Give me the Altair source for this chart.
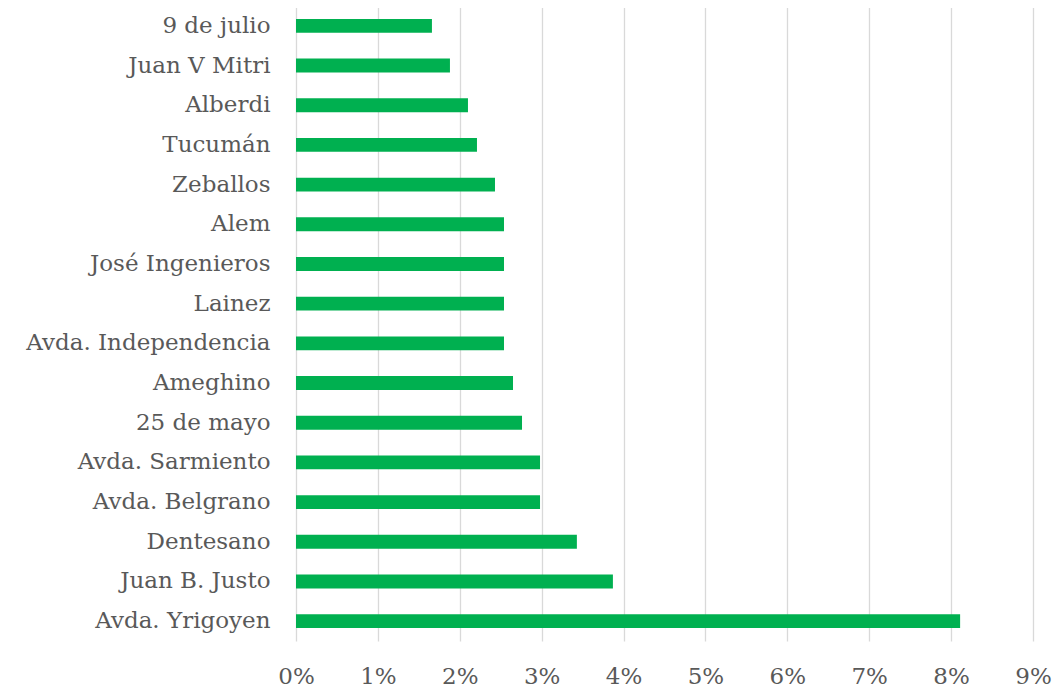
import altair as alt
import pandas as pd

calles = ["9 de julio", "Juan V Mitri", "Alberdi", "Tucumán", "Zeballos", "Alem\u00a0",
          "José Ingenieros", "Lainez", "Avda. Independencia", "Ameghino", "25 de mayo",
          "Avda. Sarmiento", "Avda. Belgrano", "Dentesano", "Juan B. Justo", "Avda. Yrigoyen"]
valores = [0.0166, 0.0188, 0.0210, 0.0221, 0.0243, 0.0254,
           0.0254, 0.0254, 0.0254, 0.0265, 0.0276,
           0.0298, 0.0298, 0.0343, 0.0387, 0.0811]
ticks = [0, 0.01, 0.02, 0.03, 0.04, 0.05, 0.06, 0.07, 0.08, 0.09]

df = pd.DataFrame({"calle": calles, "valor": valores})

FONT = "DejaVu Serif"
GRAY = "#595959"

chart = alt.Chart(df).mark_bar(color="#00B050").encode(
    x=alt.X("valor:Q",
            scale=alt.Scale(domain=[0, 0.09], nice=False),
            axis=alt.Axis(values=ticks, format=".0%", title=None, grid=True,
                          gridColor="#d9d9d9", gridWidth=1.3, domain=False, ticks=False,
                          labelFont=FONT, labelFontSize=23, labelColor=GRAY,
                          labelPadding=24, labelFlush=False)),
    y=alt.Y("calle:N", sort=calles,
            scale=alt.Scale(paddingInner=0.65, paddingOuter=0.325),
            axis=alt.Axis(title=None, domain=False, ticks=False, grid=False,
                          labelFont=FONT, labelFontSize=23, labelColor=GRAY,
                          labelPadding=26, labelLimit=400)),
).properties(
    width=737, height=635,
    autosize=alt.AutoSizeParams(type="none"),
    padding={"left": 288, "top": -2, "right": 19, "bottom": 48},
).configure_view(stroke=None)

chart.save("out.html", embed_options={"renderer": "svg", "actions": False})
